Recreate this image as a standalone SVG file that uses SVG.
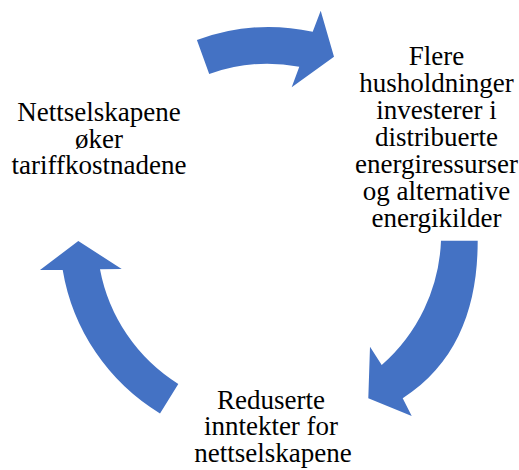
<svg xmlns="http://www.w3.org/2000/svg" width="519" height="470" viewBox="0 0 519 470">
<style>
.arrow{fill:#4472C4;stroke:none}
.lbl{font-family:"Liberation Serif","Times New Roman",serif;font-size:27px;fill:#000;text-anchor:middle}
</style>
<rect width="519" height="470" fill="#fff"/>
<g id="connectors">
<path id="arrow-top" class="arrow" d="M196.9,40 A208,208 0 0 1 312.7,31.7 L320.7,10.7 L334,56.7 L291.7,87.3 L299.3,66.7 A172,172 0 0 0 209.2,73.9 Z"/>
<path id="arrow-right" class="arrow" d="M477.7,240.7 C477.7,305.7 458.1,362.5 402.7,398.3 L411.7,416 L368.3,398.3 L370,346.7 L381.7,365 A174,174 0 0 0 441,240.7 Z"/>
<path id="arrow-left" class="arrow" d="M160,413.5 A208,208 0 0 1 62.7,270 L40,270 L78.3,241 L121.7,269 L100,269.3 A173,173 0 0 0 178.3,384 Z"/>
</g>
<g id="node-left">
<text class="lbl"><tspan x="99" y="121">Nettselskapene</tspan><tspan x="99" y="147.5">øker</tspan><tspan x="99" y="174">tariffkostnadene</tspan></text>
</g>
<g id="node-right">
<text class="lbl"><tspan x="436.5" y="65">Flere</tspan><tspan x="436.5" y="92">husholdninger</tspan><tspan x="436.5" y="119">investerer i</tspan><tspan x="436.5" y="146">distribuerte</tspan><tspan x="436.5" y="173">energiressurser</tspan><tspan x="436.5" y="200">og alternative</tspan><tspan x="436.5" y="227">energikilder</tspan></text>
</g>
<g id="node-bottom">
<text class="lbl"><tspan x="271" y="408.5">Reduserte</tspan><tspan x="271" y="435">inntekter for</tspan><tspan x="273" y="461.5">nettselskapene</tspan></text>
</g>
</svg>
